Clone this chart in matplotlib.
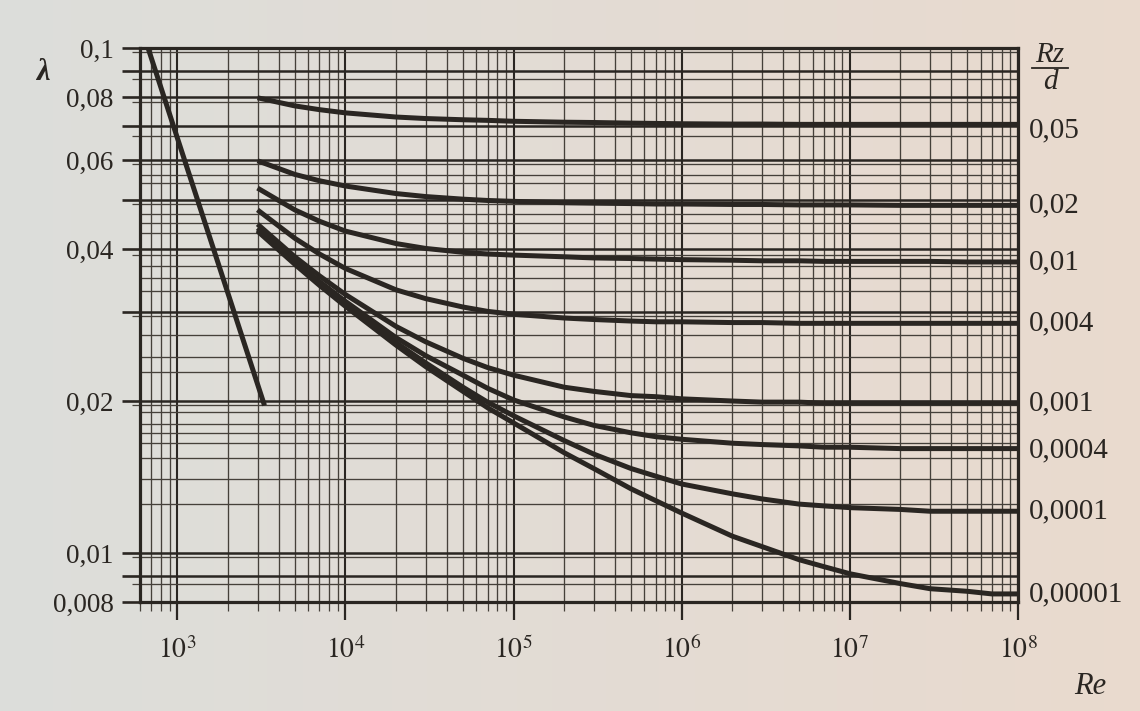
import matplotlib
matplotlib.use("Agg")
import matplotlib.pyplot as plt
import numpy as np
from matplotlib.lines import Line2D
from matplotlib.ticker import FixedLocator, NullFormatter, LogLocator

plt.rcParams['font.family'] = ['Liberation Serif', 'DejaVu Serif']
plt.rcParams['mathtext.fontset'] = 'stix'

re_pts = [3e3, 5e3, 7e3, 1e4, 2e4, 3e4, 5e4, 7e4, 1e5, 2e5, 3e5, 5e5, 7e5,
          1e6, 2e6, 3e6, 5e6, 7e6, 1e7, 2e7, 3e7, 5e7, 7e7, 1e8]

# friction factor lambda for each relative roughness Rz/d
lam_005 = [0.0797, 0.0768, 0.0755, 0.0744, 0.0730, 0.0725, 0.0721, 0.0719,
           0.0716, 0.0713, 0.0712, 0.0710, 0.0709, 0.0708, 0.0707, 0.0707,
           0.0706, 0.0706, 0.0706, 0.0706, 0.0706, 0.0706, 0.0706, 0.0706]
lam_002 = [0.0598, 0.0562, 0.0546, 0.0533, 0.0515, 0.0508, 0.0502, 0.0499,
           0.0497, 0.0494, 0.0493, 0.0492, 0.0491, 0.0491, 0.0490, 0.0490,
           0.0489, 0.0489, 0.0489, 0.0488, 0.0488, 0.0488, 0.0488, 0.0488]
lam_001 = [0.0528, 0.0478, 0.0454, 0.0434, 0.0410, 0.0401, 0.0394, 0.0391,
           0.0389, 0.0386, 0.0384, 0.0383, 0.0382, 0.0381, 0.0380, 0.0379,
           0.0379, 0.0378, 0.0378, 0.0378, 0.0378, 0.0377, 0.0377, 0.0377]
lam_0004 = [0.0478, 0.0420, 0.0391, 0.0366, 0.0332, 0.0319, 0.0307, 0.0301,
            0.0297, 0.0292, 0.0290, 0.0288, 0.0287, 0.0287, 0.0286, 0.0286,
            0.0285, 0.0285, 0.0285, 0.0285, 0.0285, 0.0285, 0.0285, 0.0285]
lam_0001 = [0.0448, 0.0386, 0.0354, 0.0325, 0.0281, 0.0262, 0.0243, 0.0233,
            0.0225, 0.0213, 0.0209, 0.0205, 0.0204, 0.0202, 0.0200, 0.0199,
            0.0199, 0.0198, 0.0198, 0.0198, 0.0198, 0.0198, 0.0198, 0.0198]
lam_00004 = [0.0440, 0.0378, 0.0345, 0.0315, 0.0267, 0.0246, 0.0225, 0.0212,
             0.0201, 0.0186, 0.0179, 0.0173, 0.0170, 0.0168, 0.0165, 0.0164,
             0.0163, 0.0162, 0.0162, 0.0161, 0.0161, 0.0161, 0.0161, 0.0161]
lam_00001 = [0.0436, 0.0375, 0.0341, 0.0310, 0.0261, 0.0238, 0.0213, 0.0199,
             0.0187, 0.0167, 0.0157, 0.0147, 0.0142, 0.0137, 0.0131, 0.0128,
             0.0125, 0.0124, 0.0123, 0.0122, 0.0121, 0.0121, 0.0121, 0.0121]
lam_000001 = [0.0434, 0.0373, 0.0339, 0.0308, 0.0258, 0.0234, 0.0209, 0.0194,
              0.0181, 0.0158, 0.0147, 0.0134, 0.0127, 0.0120, 0.0108, 0.0103,
              0.0097, 0.0094, 0.0091, 0.0087, 0.0085, 0.0084, 0.0083, 0.0083]

curves = [lam_005, lam_002, lam_001, lam_0004, lam_0001, lam_00004,
          lam_00001, lam_000001]
rough_labels = ['0,05', '0,02', '0,01', '0,004', '0,001', '0,0004',
                '0,0001', '0,00001']

# laminar line
re_lam = [670, 3300]
lam_lam = [0.1, 0.0196]

# horizontal grid of the printed chart
y_major = [0.1, 0.09, 0.08, 0.07, 0.06, 0.05, 0.04, 0.03, 0.02, 0.01, 0.009, 0.008]
y_ticklabels = {0.1: '0,1', 0.08: '0,08', 0.06: '0,06', 0.04: '0,04',
                0.02: '0,02', 0.01: '0,01', 0.008: '0,008'}
y_minor = [0.098, 0.087, 0.078, 0.067, 0.059, 0.049, 0.039, 0.0295, 0.0196,
           0.0098, 0.0087]
y_extra = [0.056, 0.054, 0.047, 0.045, 0.043, 0.037, 0.035, 0.033, 0.027,
           0.0245, 0.0228, 0.019, 0.018, 0.0173, 0.0165, 0.0154, 0.014, 0.0125]

x_decades = [1e3, 1e4, 1e5, 1e6, 1e7, 1e8]
x_labels = ['$10^{3}$', '$10^{4}$', '$10^{5}$', '$10^{6}$', '$10^{7}$', '$10^{8}$']

ink = '#2a2622'
thin = '#45403a'

fig = plt.figure(figsize=(11.4, 7.11), dpi=100)

# paper background
bg = fig.add_axes([0, 0, 1, 1], zorder=-10)
c1 = np.array([0.865, 0.870, 0.858])
c2 = np.array([0.915, 0.855, 0.808])
t = np.linspace(0, 1, 64)[None, :, None]
bg.imshow(c1 + (c2 - c1) * t, aspect='auto', extent=[0, 1, 0, 1])
bg.axis('off')

ax = fig.add_axes([140 / 1140, 1 - 602 / 711, 878 / 1140, 554 / 711])
ax.set_facecolor('none')
ax.set_xscale('log')
ax.set_yscale('log')
ax.set_xlim(600, 1e8)
ax.set_ylim(0.008, 0.1)

# x ticks and grid
ax.xaxis.set_major_locator(FixedLocator(x_decades))
ax.set_xticklabels(x_labels)
ax.xaxis.set_minor_locator(LogLocator(base=10, subs=np.arange(2, 10), numticks=20))
ax.xaxis.set_minor_formatter(NullFormatter())
ax.tick_params(axis='x', which='major', length=13, width=1.6, color=ink,
               labelsize=20, labelcolor=ink, pad=12)
ax.tick_params(axis='x', which='minor', length=6.5, width=0.9, color=thin)
ax.grid(True, axis='x', which='major', color=ink, lw=1.5)
ax.grid(True, axis='x', which='minor', color=thin, lw=0.95)

# y ticks and grid
ax.yaxis.set_major_locator(FixedLocator(y_major))
ax.set_yticklabels([y_ticklabels.get(v, '') for v in y_major])
ax.yaxis.set_minor_locator(FixedLocator(y_minor))
ax.yaxis.set_minor_formatter(NullFormatter())
ax.tick_params(axis='y', which='major', length=13, width=1.9, color=ink,
               labelsize=19.5, labelcolor=ink, pad=6)
ax.tick_params(axis='y', which='minor', length=6, width=0.9, color=thin)
ax.grid(True, axis='y', which='major', color=ink, lw=1.8)
ax.grid(True, axis='y', which='minor', color=thin, lw=0.95)
for v in y_extra:
    ax.axhline(v, color=thin, lw=0.95, zorder=1)
ax.set_axisbelow(True)

for s in ax.spines.values():
    s.set_linewidth(2.3)
    s.set_color(ink)

# curves
ax.plot(re_lam, lam_lam, color=ink, lw=3.6, solid_capstyle='butt', zorder=3)
for lam in curves:
    ax.plot(re_pts, lam, color=ink, lw=3.6, solid_joinstyle='round',
            solid_capstyle='butt', zorder=3)

dy = [-4, 0, 0, 0, 0, -1, 0, 0]
for lam, lab, d in zip(curves, rough_labels, dy):
    ax.annotate(lab, xy=(1, lam[-1]), xycoords=('axes fraction', 'data'),
                xytext=(8, d), textcoords='offset points', ha='left',
                va='center', fontsize=21, color=ink)

# axis names
fig.text(43 / 1140, 1 - 72 / 711, 'λ', fontsize=22, fontstyle='italic',
         fontweight='bold', color=ink, ha='center', va='center')
fig.text(1090 / 1140, 1 - 686 / 711, 'Re', fontsize=22, fontstyle='italic',
         color=ink, ha='center', va='center')
fig.text(1050 / 1140, 1 - 55 / 711, 'Rz', fontsize=21, fontstyle='italic',
         color=ink, ha='center', va='center')
fig.text(1050 / 1140, 1 - 82 / 711, 'd', fontsize=21, fontstyle='italic',
         color=ink, ha='center', va='center')
fig.add_artist(Line2D([1032 / 1140, 1068 / 1140], [1 - 68 / 711, 1 - 68 / 711],
                      color=ink, lw=1.3))

fig.savefig('out.png', dpi=100)
